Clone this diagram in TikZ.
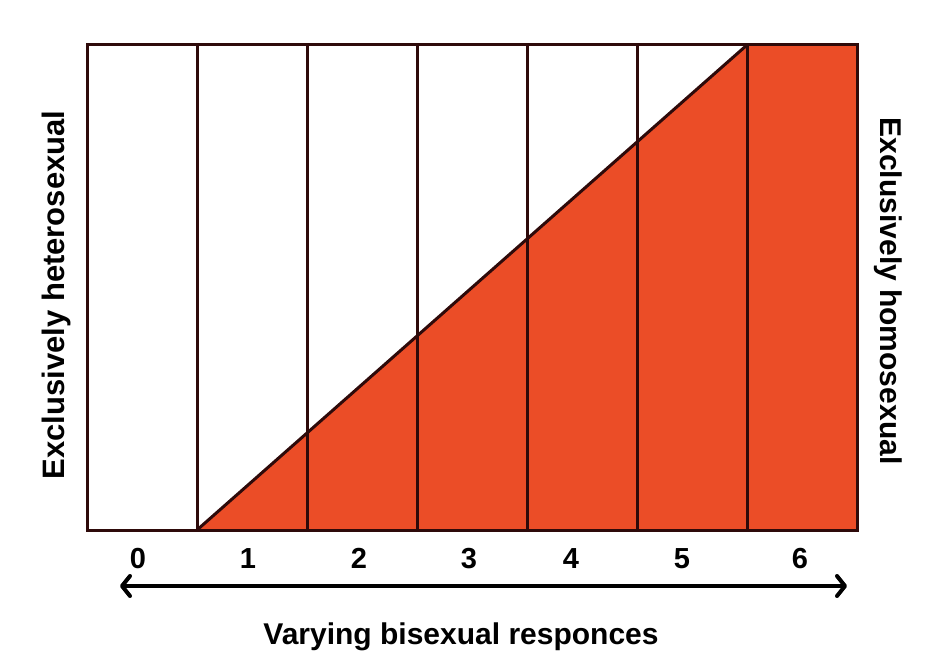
\documentclass[tikz,border=0pt]{standalone}
\usepackage{fontspec}
\setmainfont{Liberation Sans}
\usetikzlibrary{arrows.meta}
\definecolor{kfill}{HTML}{EB4D27}
\definecolor{kline}{HTML}{2E0A0A}
\tikzset{
  grid line/.style={draw=kline, line width=3pt},
  lbl/.style={font=\bfseries\fontsize{30}{34}\selectfont, inner sep=0pt, anchor=base},
  num/.style={font=\bfseries\fontsize{29}{32}\selectfont, inner sep=0pt, anchor=base},
}
\begin{document}
\begin{tikzpicture}[x=1pt,y=-1pt]
\useasboundingbox (0,0) rectangle (950,669);
% fill
\fill[kfill] (197,530) -- (747,45) -- (857,45) -- (857,530) -- cycle;
% verticals
\foreach \x in {197,307,417,527,637,747} {
  \draw[grid line] (\x,45) -- (\x,530);
}
\draw[grid line] (197,530) -- (747,45);
\draw[grid line] (87,45) rectangle (857,530);
% numbers
\foreach \n/\x in {0/138,1/248,2/359,3/469,4/571,5/682,6/800} {
  \node[num] (n\n) at (\x,568) {\n};
}
\coordinate (aL) at (120,586);
\coordinate (aR) at (847,586);
\draw[line width=4pt, {Straight Barb[length=8pt,width=20pt,line width=4pt, round]}-{Straight Barb[length=8pt,width=20pt,line width=4pt, round]}] (aL) -- (aR);
\node[lbl] (bottom) at (461,644) {Varying bisexual responces};
\node[lbl, rotate=90, font=\bfseries\fontsize{31}{34}\selectfont] (left) at (64,295) {Exclusively heterosexual};
\node[lbl, rotate=-90] (right) at (880,291) {Exclusively homosexual};
\end{tikzpicture}
\end{document}
